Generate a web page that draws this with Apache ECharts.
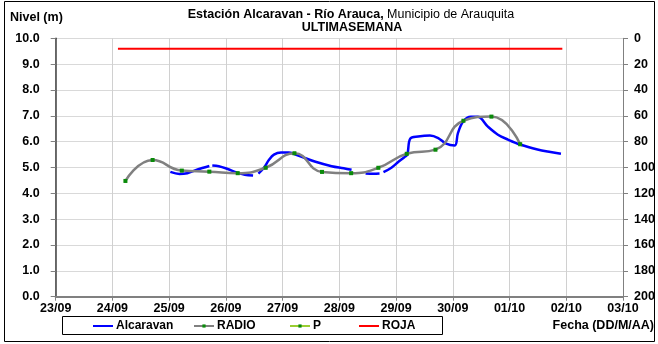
<!DOCTYPE html>
<html>
<head>
<meta charset="utf-8">
<script src="https://cdn.jsdelivr.net/npm/echarts@6/dist/echarts.min.js"></script>
<style>
html,body{margin:0;padding:0;background:#fff;}
#c{width:658px;height:344px;}
</style>
</head>
<body>
<div id="c"></div>
<script>
// ---- data (dd/mm hh:mm, year irrelevant) ----
var xTickLabels = ['23/09','24/09','25/09','26/09','27/09','28/09','29/09','30/09','01/10','02/10','03/10'];

var alcaravanTimes = ['25/09 00:30','25/09 04:20','25/09 07:40','25/09 10:40','25/09 14:00','25/09 17:00','25/09 17:30',
  '25/09 18:15','25/09 21:00','26/09 00:30','26/09 04:45','26/09 08:00','26/09 11:30','26/09 12:30',
  '26/09 13:45','26/09 16:05','26/09 18:15','26/09 20:20','26/09 23:20','27/09 02:40','27/09 06:55','27/09 13:55',
  '27/09 20:45','28/09 01:50','28/09 05:10','28/09 06:00',
  '28/09 11:05','28/09 14:25','28/09 17:00','28/09 17:30',
  '28/09 18:40','28/09 22:00','29/09 01:00','29/09 03:30','29/09 04:45','29/09 06:00','29/09 09:20','29/09 14:20',
  '29/09 17:50','29/09 21:10','30/09 00:50','30/09 02:10','30/09 04:20','30/09 07:40','30/09 10:35','30/09 14:50',
  '30/09 19:05','30/09 23:20','01/10 04:45','01/10 11:50','01/10 17:20','01/10 21:45'];
var alcaravanValues = [4.83,4.75,4.78,4.88,4.98,5.06,null,
  5.08,5.05,4.95,4.80,4.72,4.69,null,
  4.76,4.99,5.30,5.50,5.58,5.58,5.45,5.22,
  5.05,4.97,4.91,null,
  4.77,4.76,4.77,null,
  4.82,4.99,5.22,5.40,5.50,6.12,6.20,6.24,
  6.14,5.92,5.85,6.33,6.77,6.96,6.96,6.58,
  6.27,6.08,5.88,5.70,5.60,5.53];

var radioTimes = ['24/09 05:30','24/09 17:00','25/09 05:20','25/09 17:00','26/09 05:00','26/09 16:50','27/09 05:00',
  '27/09 16:40','28/09 05:00','28/09 16:30','29/09 04:30','29/09 16:40','30/09 04:30','30/09 16:20','01/10 04:30'];
var radioValues = [4.48,5.29,4.88,4.84,4.78,4.99,5.55,4.83,4.78,4.99,5.53,5.69,6.81,6.97,5.90];
var pValues = radioValues;

var rojaTimes = ['24/09 02:20','01/10 22:20'];
var rojaValues = [9.6, 9.6];

// ---- helpers ----
var DAY = 86400000;
function ts(s){
  var p = s.split(' '), d = p[0].split('/'), h = (p[1]||'00:00').split(':');
  return Date.UTC(2013, +d[1]-1, +d[0], +h[0], +h[1]);
}
function pairs(times, vals){
  return times.map(function(t,i){ return [ts(t), vals[i]==null ? '-' : vals[i]]; });
}
function fmt(v){
  var dt = new Date(v);
  return ('0'+dt.getUTCDate()).slice(-2)+'/'+('0'+(dt.getUTCMonth()+1)).slice(-2);
}
var FONT = 'Liberation Sans, Arial, sans-serif';
var FS = 12.5;
var xMin = ts(xTickLabels[0]+' 00:00');
var xMax = ts(xTickLabels[xTickLabels.length-1]+' 00:00');

var chart = echarts.init(document.getElementById('c'), null, {renderer:'canvas'});
function lg(left, item){
  return {
    left:left, top:320, itemWidth:20, itemHeight:4, itemGap:0, padding:0,
    textStyle:{fontFamily:FONT, fontWeight:'bold', fontSize:12, color:'#000', padding:[0,0,0,-2]},
    data:[item]
  };
}
chart.setOption({
  animation:false,
  backgroundColor:'#fff',
  textStyle:{fontFamily:FONT},
  grid:{left:55.7, right:35, top:38.3, bottom:47.3},
  graphic:[
    {type:'rect', shape:{x:4.5, y:1.5, width:650, height:340}, style:{fill:'none', stroke:'#000', lineWidth:1}, silent:true, z:-1},
    {type:'rect', shape:{x:62.5, y:316.5, width:380, height:18}, style:{fill:'none', stroke:'#000', lineWidth:1}, silent:true},
    {type:'text', x:10, y:18, style:{text:'Nivel (m)', fontFamily:FONT, fontWeight:'bold', fontSize:FS, fill:'#000', textVerticalAlign:'middle'}},
    {type:'text', x:351, y:15, style:{rich:{b:{fontFamily:FONT, fontWeight:'bold', fontSize:12.5, fill:'#000'}, n:{fontFamily:FONT, fontSize:12.5, fill:'#000'}},
      text:'{b|Estación Alcaravan - Río Arauca,}{n| Municipio de Arauquita}', textAlign:'center', textVerticalAlign:'middle'}},
    {type:'text', x:352, y:28, style:{text:'ULTIMASEMANA', fontFamily:FONT, fontWeight:'bold', fontSize:12.5, fill:'#000', textAlign:'center', textVerticalAlign:'middle'}},
    {type:'text', x:654, y:326, style:{text:'Fecha (DD/M/AA)', fontFamily:FONT, fontWeight:'bold', fontSize:FS, fill:'#000', textAlign:'right', textVerticalAlign:'middle'}}
  ],
  legend:[
    lg(92, {name:'Alcaravan', itemStyle:{opacity:0}}),
    lg(193, {name:'RADIO'}),
    lg(289, {name:'P', itemStyle:{color:'#0a8a0a'}, lineStyle:{color:'#9acd32', width:2, opacity:1}}),
    lg(358, {name:'ROJA', itemStyle:{opacity:0}})
  ],
  xAxis:{
    type:'value', min:xMin, max:xMax, interval:DAY,
    axisLine:{lineStyle:{color:'#808080', width:2}},
    axisTick:{show:true, length:4, lineStyle:{color:'#808080'}},
    axisLabel:{formatter:fmt, fontFamily:FONT, fontWeight:'bold', fontSize:FS, color:'#000', margin:5},
    splitLine:{show:true, lineStyle:{color:'#d0d0d0', width:1}}
  },
  yAxis:[
    {type:'value', min:0, max:10, interval:1,
      axisLine:{show:true, lineStyle:{color:'#404040', width:1.5}},
      axisTick:{show:true, length:5, lineStyle:{color:'#808080'}},
      axisLabel:{formatter:function(v){return v.toFixed(1);}, fontFamily:FONT, fontWeight:'bold', fontSize:FS, color:'#000', margin:16},
      splitLine:{show:true, lineStyle:{color:'#d9d9d9', width:1}}},
    {type:'value', min:0, max:200, interval:20, inverse:true, position:'right',
      axisLine:{show:true, lineStyle:{color:'#808080', width:1}},
      axisTick:{show:true, length:5, lineStyle:{color:'#808080'}},
      axisLabel:{fontFamily:FONT, fontWeight:'bold', fontSize:FS, color:'#000', margin:11},
      splitLine:{show:false}}
  ],
  series:[
    {name:'Alcaravan', type:'line', data:pairs(alcaravanTimes, alcaravanValues), smooth:0.35, showSymbol:false, symbol:'none',
      lineStyle:{color:'#0000ff', width:2.5}, itemStyle:{color:'#0000ff'}, z:3},
    {name:'RADIO', type:'line', data:pairs(radioTimes, radioValues), smooth:0.5, symbol:'rect', symbolSize:3,
      lineStyle:{color:'#808080', width:2.5}, itemStyle:{color:'#0a8a0a'}, z:4},
    {name:'P', type:'line', data:pairs(radioTimes, pValues), smooth:0.5, symbol:'rect', symbolSize:4,
      lineStyle:{color:'#9acd32', width:2, opacity:0}, itemStyle:{color:'#0a8a0a'}, z:5},
    {name:'ROJA', type:'line', data:pairs(rojaTimes, rojaValues), symbol:'none',
      lineStyle:{color:'#ff0000', width:2}, itemStyle:{color:'#ff0000'}, z:2}
  ]
});
</script>
</body>
</html>
